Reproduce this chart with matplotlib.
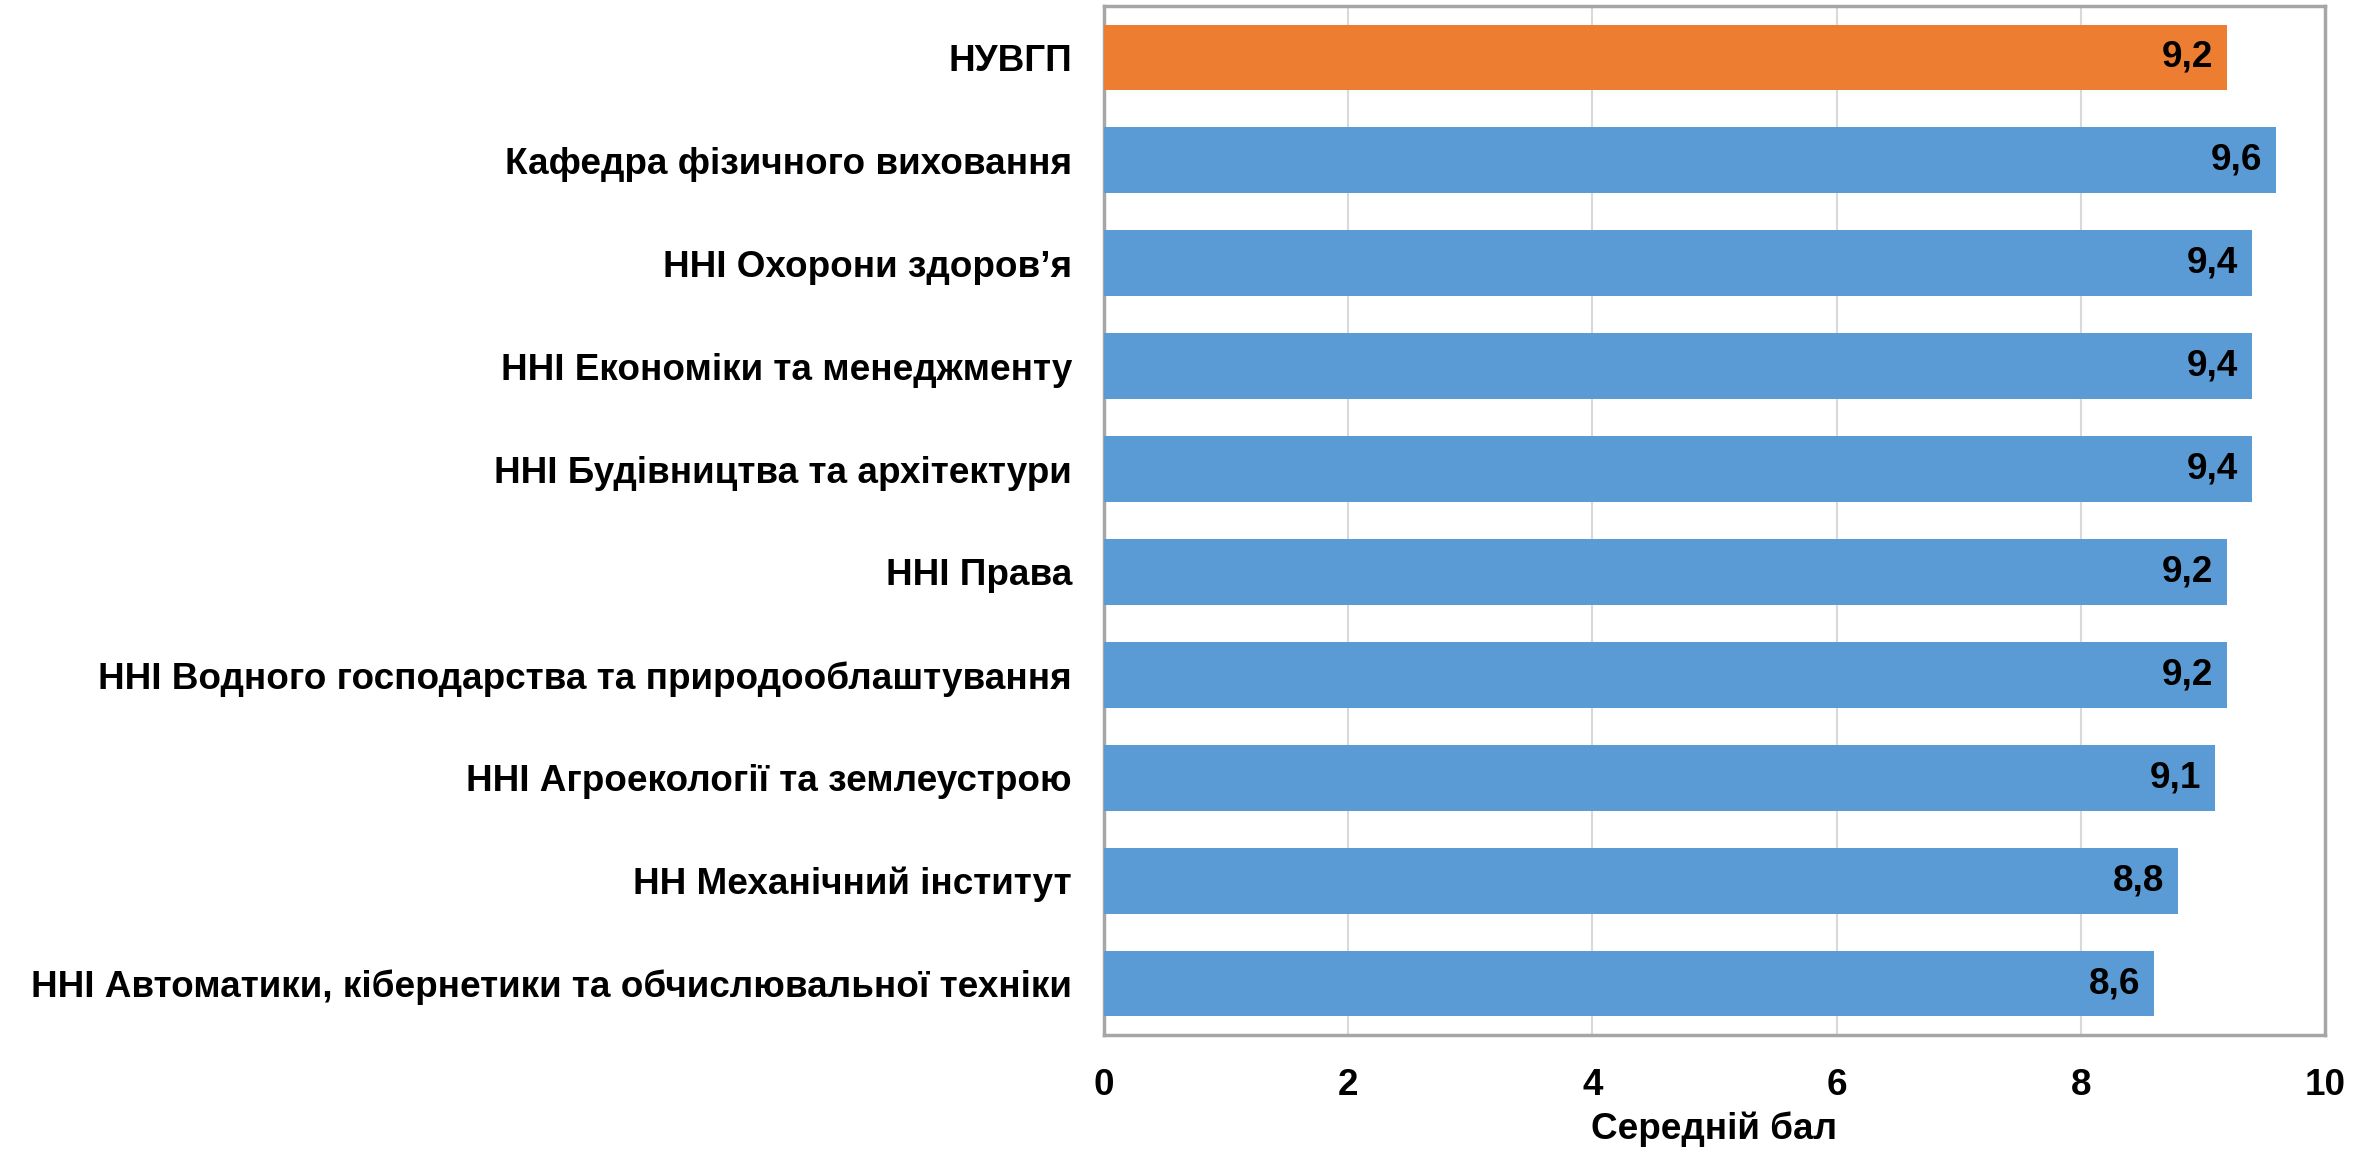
import matplotlib
matplotlib.use("Agg")
import matplotlib.pyplot as plt

categories = [
    "НУВГП",
    "Кафедра фізичного виховання",
    "ННІ Охорони здоров’я",
    "ННІ Економіки та менеджменту",
    "ННІ Будівництва та архітектури",
    "ННІ Права",
    "ННІ Водного господарства та природооблаштування",
    "ННІ Агроекології та землеустрою",
    "НН Механічний інститут",
    "ННІ Автоматики, кібернетики та обчислювальної техніки",
]
values = [9.2, 9.6, 9.4, 9.4, 9.4, 9.2, 9.2, 9.1, 8.8, 8.6]
colors = ["#ED7D31"] + ["#5B9BD5"] * 9
xticks = [0, 2, 4, 6, 8, 10]
xlabel = "Середній бал"

plt.rcParams['font.family'] = ['Liberation Sans', 'DejaVu Sans']
plt.rcParams['font.weight'] = 'bold'

FS = 26.6

fig = plt.figure(figsize=(23.72, 11.49), dpi=100)
ax = fig.add_axes([1104/2372, 1 - 1035/1149, (2325-1104)/2372, (1035-6)/1149])

y = list(range(len(categories)))
ax.barh(y, values, height=0.64, color=colors, zorder=3)
ax.set_ylim(len(categories) - 0.5, -0.5)
ax.set_xlim(0, 10)
ax.set_yticks(y)
ax.set_yticklabels(categories, fontsize=FS, fontweight='bold')
ax.set_xticks(xticks)
ax.set_xticklabels([str(t) for t in xticks], fontsize=FS, fontweight='bold')
ax.tick_params(axis='both', length=0)
ax.tick_params(axis='y', pad=23)
ax.tick_params(axis='x', pad=24)
ax.set_xlabel(xlabel, fontsize=FS, fontweight='bold', labelpad=6)
ax.grid(axis='x', color='#d9d9d9', linewidth=1.5, zorder=0)
for s in ax.spines.values():
    s.set_color('#a6a6a6')
    s.set_linewidth(2.5)

for yi, v in zip(y, values):
    ax.annotate(f"{v:.1f}".replace('.', ','), xy=(v, yi), xytext=(-14, 0),
                textcoords='offset pixels', ha='right', va='center',
                fontsize=FS, fontweight='bold', color='black', zorder=4)

fig.savefig("out.png", dpi=100)
